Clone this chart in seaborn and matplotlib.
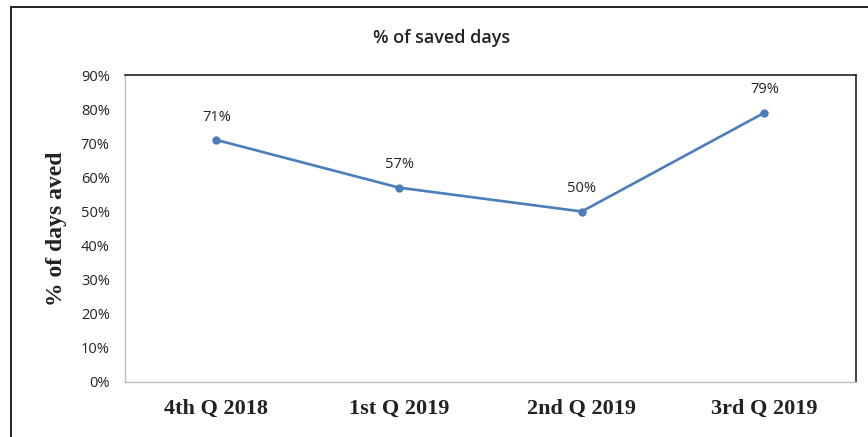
import matplotlib.pyplot as plt
import seaborn as sns
import pandas as pd
from matplotlib.patches import Rectangle

quarters = ["4th Q 2018", "1st Q 2019", "2nd Q 2019", "3rd Q 2019"]
saved_pct = [71, 57, 50, 79]
y_ticks = [0, 10, 20, 30, 40, 50, 60, 70, 80, 90]

df = pd.DataFrame({"quarter": quarters, "saved": saved_pct})

sns.set_style("white")
plt.rcParams['font.family'] = ['Open Sans', 'DejaVu Sans']

fig = plt.figure(figsize=(8.68, 4.37), dpi=100)
ax = fig.add_axes([0.144, 0.126, 0.842, 0.702])

sns.lineplot(data=df, x="quarter", y="saved", ax=ax, color="#4a7ebb",
             linewidth=1.9, marker="o", markersize=6, markeredgewidth=0,
             sort=False)

# value labels above each point
for i, v in enumerate(saved_pct):
    ax.text(i, v + 4.5, f"{v}%", ha="center", va="bottom", fontsize=10.5,
            family="Open Sans", color="#222222")

ax.set_xlim(-0.5, 3.5)
ax.set_ylim(0, 90)
ax.set_yticks(y_ticks)
ax.set_yticklabels([f"{t}%" for t in y_ticks], fontsize=10.5,
                   family="Open Sans", color="#222222")
ax.set_xticks(range(len(quarters)))
ax.set_xticklabels(quarters, fontsize=16, family="Liberation Serif",
                   fontweight="bold", color="#222222")
ax.tick_params(axis="y", length=0, pad=11)
ax.tick_params(axis="x", length=0, pad=12)
ax.set_xlabel("")
ax.set_ylabel("% of days aved", fontsize=17, family="Liberation Serif",
              fontweight="bold", labelpad=10, color="#222222")

for side in ["left", "bottom"]:
    ax.spines[side].set_color("#bfbfbf")
    ax.spines[side].set_linewidth(1)
for side in ["top", "right"]:
    ax.spines[side].set_color("#222222")
    ax.spines[side].set_linewidth(1.2)

fig.text(0.509, 0.912, "% of saved days", ha="center", va="center",
         fontsize=13, fontweight="semibold", family="Open Sans",
         color="#222222")

# outer chart border
fig.patches.append(Rectangle((0.0125, -0.1), 1.2, 1.084, fill=False,
                             edgecolor="#222222", linewidth=1.4,
                             transform=fig.transFigure, figure=fig))

fig.savefig("out.png", dpi=100)
